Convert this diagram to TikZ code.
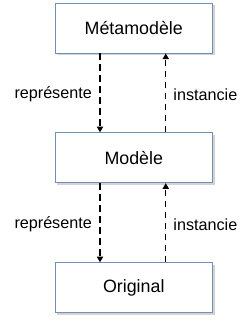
\documentclass[tikz,border=0pt]{standalone}
\usepackage{fontspec}
\setmainfont{Liberation Sans}
\usepackage{tikz}
\usetikzlibrary{arrows.meta, positioning, shadows}

\definecolor{boxline}{RGB}{112,142,182}

\begin{document}
\begin{tikzpicture}[
    box/.style={draw=boxline, line width=0.9pt, rectangle, fill=white, align=center, minimum width=6.3cm, minimum height=2cm, font=\fontsize{20.3}{24}\selectfont, drop shadow={shadow xshift=2.5pt, shadow yshift=-2.5pt, opacity=0.35}},
    link/.style={line width=1.6pt, dash pattern=on 7.6pt off 4.9pt},
    lbl/.style={font=\fontsize{18.4}{22}\selectfont, inner sep=0pt},
    >={Triangle[width=7pt, length=6.5pt]}
]
\useasboundingbox (0, 0) rectangle (10, -12.88);

% Levels
\node[box] (meta) at (5.35, -1.12) {Métamodèle};
\node[box] (modele) at (5.35, -6.31) {Modèle};
\node[box] (orig) at (5.35, -11.51) {Original};

% Connections
\draw[->, link] ([xshift=-1.35cm]meta.south) -- node[lbl, midway, left=0.3cm, yshift=-0.06cm] {représente} ([xshift=-1.35cm]modele.north);
\draw[->, link] ([xshift=1.28cm]modele.north) -- node[lbl, midway, right=0.28cm, yshift=-0.06cm] {instancie} ([xshift=1.28cm]meta.south);
\draw[->, link] ([xshift=-1.35cm]modele.south) -- node[lbl, midway, left=0.3cm, yshift=-0.06cm] {représente} ([xshift=-1.35cm]orig.north);
\draw[->, link] ([xshift=1.28cm]orig.north) -- node[lbl, midway, right=0.28cm, yshift=-0.06cm] {instancie} ([xshift=1.28cm]modele.south);

\end{tikzpicture}
\end{document}
